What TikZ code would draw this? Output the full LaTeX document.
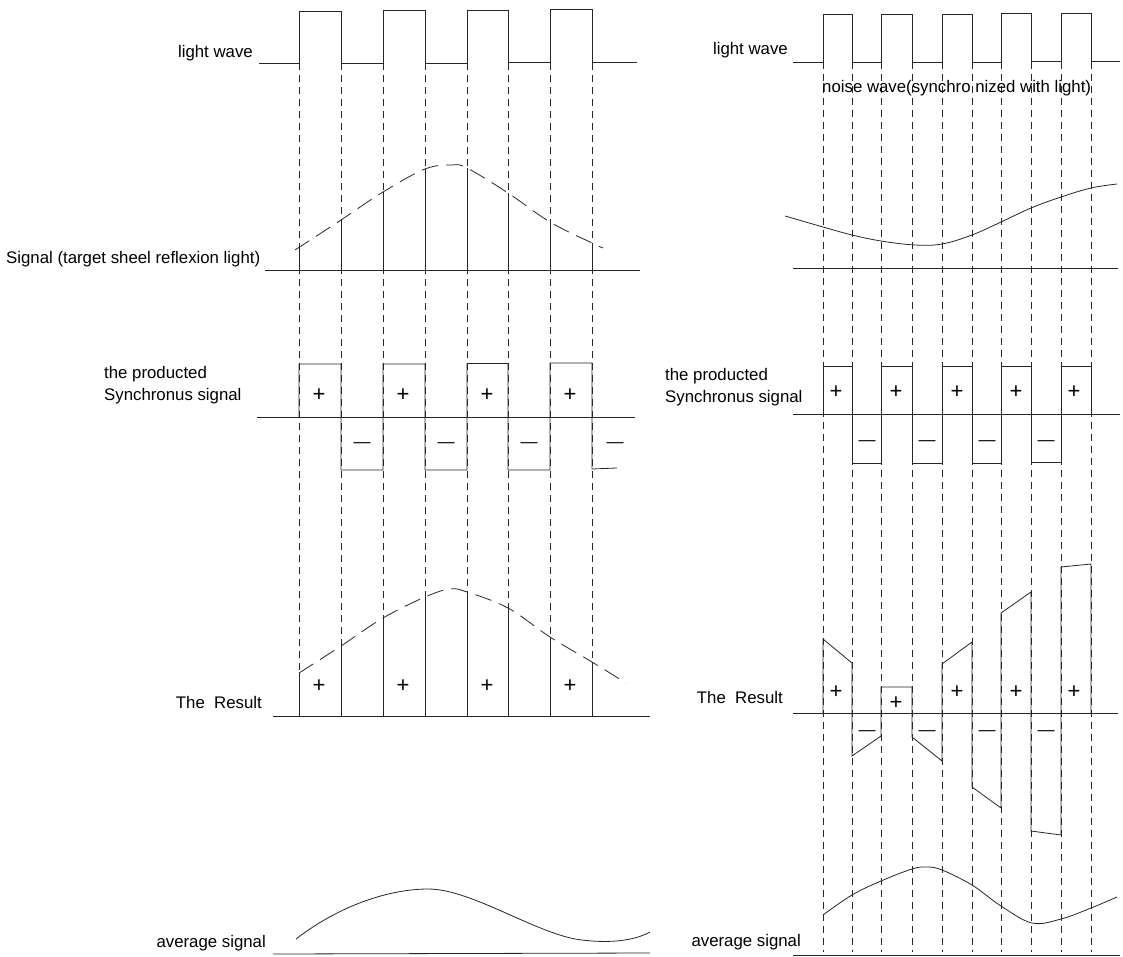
\documentclass[tikz,border=0pt]{standalone}
\usepackage{fontspec}
\setmainfont{Liberation Sans}
\begin{document}
\begin{tikzpicture}[x=1pt,y=-1pt,
  wave/.style={line width=0.8pt,draw=black!85,line join=miter},
  guide/.style={line width=0.7pt,draw=black!85,dash pattern=on 7pt off 5pt},
  curvedash/.style={line width=0.8pt,draw=black!85,dash pattern=on 17pt off 8pt},
  lbl/.style={inner sep=0pt,font=\fontsize{16.8}{20}\selectfont},
  sign/.style={inner sep=0pt,font=\fontsize{22}{24}\selectfont},
  msign/.style={inner sep=0pt,font=\fontsize{17}{20}\selectfont}]
\useasboundingbox (0,0) rectangle (1123,957);

% ---------------- LEFT PANEL ----------------
\foreach \x in {299,341,383,425,467,508,550,592}
  \draw[guide] (\x,63) -- (\x,716);
% light wave
\draw[wave] (259,63) -- (299,63) -- (299,11) -- (341,11) -- (341,63) -- (383,63) -- (383,10.5) -- (425,10.5) -- (425,63) -- (467,63) -- (467,10) -- (508,10) -- (508,62.5) -- (550,62.5) -- (550,9.5) -- (592,9.5) -- (592,62) -- (637,62);
\node[lbl,anchor=base east] (lw1) at (253,58) {light wave};

% signal
\draw[wave] (265,270) -- (640,270);
\draw[curvedash] plot[smooth,tension=0.6] coordinates {(295,250) (341,220) (383,192) (425,169) (452,165) (467,168) (508,193) (550,222) (592,243) (603,248)};
\foreach \x/\y in {299/248,341/220,383/192,425/169,467/168,508/193,550/222,592/243}
  \draw[wave] (\x,\y) -- (\x,270);
\node[lbl,anchor=base west] (sig1) at (6,264) {Signal (target sheel reflexion light)};

% synchronous signal
\draw[wave] (257,417) -- (635,417);
\draw[wave] (299,417) -- (299,364) -- (341,364) -- (341,470) -- (383,470) -- (383,364) -- (425,364) -- (425,470) -- (467,470) -- (467,363.5) -- (508,363.5) -- (508,470) -- (550,470) -- (550,363) -- (592,363) -- (592,469) -- (617,468);
\node[lbl,anchor=base west] (pa1) at (104,378) {the producted};
\node[lbl,anchor=base west] (pb1) at (104,400) {Synchronus signal};
\foreach \x [count=\i] in {319,403,487,570}
  \node[sign] (sp\i) at (\x,395) {+};
\foreach \x [count=\i] in {362,446,529,615}
  \node[msign] (sm\i) at (\x,445) {—};

% result
\draw[wave] (273,716) -- (650,716);
\draw[curvedash] plot[smooth,tension=0.6] coordinates {(299,673) (341,646) (383,618) (425,597) (450,589) (467,592) (508,608) (550,637) (592,662) (626,683)};
\foreach \x/\y in {299/673,341/646,383/618,425/597,467/592,508/608,550/637,592/662}
  \draw[wave] (\x,\y) -- (\x,716);
\foreach \x [count=\i] in {319,403,487,570}
  \node[sign] (rp\i) at (\x,686) {+};
\node[lbl,anchor=base east] (res1) at (262,708) {The\ \ Result};

% average
\draw[wave] (273,954) -- (650,953);
\draw[wave] (296,939) .. controls (340,905) and (390,889) .. (428,889)
  .. controls (470,889) and (530,930) .. (575,939)
  .. controls (600,943) and (630,943) .. (650,932);
\node[lbl,anchor=base east] (avg1) at (266,947) {average signal};

% ---------------- RIGHT PANEL ----------------
\foreach \x in {823,852,881,912,942,972,1001,1031,1061,1091}
  \draw[guide] (\x,62) -- (\x,952);
% light wave
\draw[wave] (793,62) -- (823,62) -- (823,14.5) -- (852,14.5) -- (852,62) -- (881,62) -- (881,14) -- (912,14) -- (912,62) -- (942,62) -- (942,14) -- (972,14) -- (972,62) -- (1001,62) -- (1001,13.5) -- (1031,13.5) -- (1031,61.5) -- (1061,61.5) -- (1061,13) -- (1091,13) -- (1091,61) -- (1120,61);
\node[lbl,anchor=base east] (lw2) at (788,55) {light wave};
\node[lbl,anchor=base west] (noise) at (822,93) {noise wave(synchro nized with light)};

% noise signal
\draw[wave] (793,268) -- (1118,268);
\draw[wave] plot[smooth,tension=0.6] coordinates {(785,216) (823,227) (852,235) (881,241) (915,245) (942,244) (972,235) (1001,222) (1031,208) (1061,197) (1091,188) (1117,184)};

% synchronous signal
\draw[wave] (793,414) -- (1120,414);
\draw[wave] (823,414) -- (823,366) -- (852,366) -- (852,463) -- (881,463) -- (881,366) -- (912,366) -- (912,463) -- (942,463) -- (942,366) -- (972,366) -- (972,463) -- (1001,463) -- (1001,366) -- (1031,366) -- (1031,462) -- (1061,462) -- (1061,366) -- (1091,366) -- (1091,414);
\node[lbl,anchor=base west] (pa2) at (665,380) {the producted};
\node[lbl,anchor=base west] (pb2) at (665,402) {Synchronus signal};
\foreach \x [count=\i] in {836,896,957,1016,1074}
  \node[sign] (tp\i) at (\x,392) {+};
\foreach \x [count=\i] in {867,927,987,1046}
  \node[msign] (tm\i) at (\x,443) {—};

% result
\draw[wave] (793,713) -- (1118,713);
\draw[wave] (823,713) -- (823,639) -- (852,663) -- (852,756) -- (881,736) -- (881,687) -- (912,687) -- (912,737) -- (942,761) -- (942,664) -- (972,642) -- (972,787) -- (1001,808) -- (1001,613) -- (1031,592) -- (1031,831) -- (1061,835) -- (1061,567) -- (1091,564) -- (1091,713);
\foreach \x/\y [count=\i] in {836/692,896/703,957/692,1016/692,1074/692}
  \node[sign] (up\i) at (\x,\y) {+};
\foreach \x [count=\i] in {867,927,987,1046}
  \node[msign] (um\i) at (\x,733) {—};
\node[lbl,anchor=base east] (res2) at (783,703) {The\ \ Result};

% average
\draw[wave] (793,955) -- (1120,955);
\draw[wave] plot[smooth,tension=0.6] coordinates {(823,915) (852,895) (881,881) (912,869) (927,867) (942,870) (972,885) (1001,906) (1032,923) (1061,919) (1091,908) (1117,897)};
\node[lbl,anchor=base east] (avg2) at (801,946) {average signal};
\end{tikzpicture}
\end{document}
